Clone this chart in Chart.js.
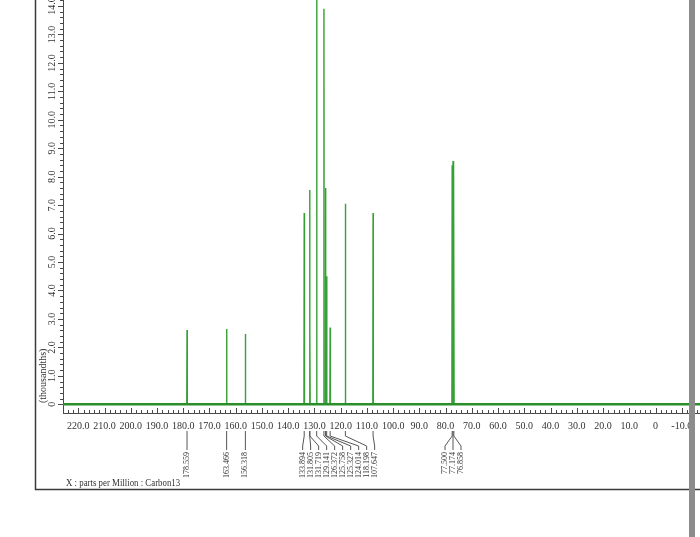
<!DOCTYPE html>
<html><head><meta charset="utf-8">
<script src="https://cdn.jsdelivr.net/npm/chart.js@4.4.0/dist/chart.umd.min.js"></script>
<style>html,body{margin:0;padding:0;background:#fff;overflow:hidden}canvas{display:block}</style>
</head><body>
<canvas id="c" width="700" height="537"></canvas>
<script>
// ---- data ----
const peakPpm    = [178.559, 163.466, 156.318, 133.894, 131.805, 131.719, 129.141, 126.372, 125.758, 125.327, 124.014, 118.198, 107.647, 77.500, 77.174, 76.858];
const peakHeight = [2.61, 2.65, 2.47, 6.72, 7.53, 2.6, 15.5, 13.9, 7.6, 4.5, 2.7, 7.05, 6.72, 8.4, 8.55, 8.35]; // thousandths
const peakLabels = ['178.559','163.466','156.318','133.894','131.805','131.719','129.141','126.372','125.758','125.327','124.014','118.198','107.647','77.500','77.174','76.858'];
const xTickValues = [220,210,200,190,180,170,160,150,140,130,120,110,100,90,80,70,60,50,40,30,20,10,0,-10];
const xTickLabels = ['220.0','210.0','200.0','190.0','180.0','170.0','160.0','150.0','140.0','130.0','120.0','110.0','100.0','90.0','80.0','70.0','60.0','50.0','40.0','30.0','20.0','10.0','0','-10.0'];
const yTickValues = [0,1,2,3,4,5,6,7,8,9,10,11,12,13,14];
const yTickLabels = ['0','1.0','2.0','3.0','4.0','5.0','6.0','7.0','8.0','9.0','10.0','11.0','12.0','13.0','14.0'];
const xRange = [225.83, -16.96];
const yRange = [-0.306, 14.21];
const xTitle = 'X : parts per Million : Carbon13';
const yTitle = '(thousandths)';

// ---- build line from peaks ----
const halfWidth = 0.1;
const spectrum = [{x: xRange[0], y: 0}];
peakPpm.forEach((p, i) => {
  spectrum.push({x: p + halfWidth, y: 0}, {x: p, y: peakHeight[i]}, {x: p - halfWidth, y: 0});
});
spectrum.push({x: xRange[1], y: 0});
const baseline = [{x: xRange[0], y: 0}, {x: xRange[1], y: 0}];

const SERIF = '"Liberation Serif", "DejaVu Serif", serif';
const AX = '#4a4a4a';
const TXT = '#333';

const decor = {
  id: 'decor',
  afterDraw(chart) {
    const ctx = chart.ctx, xs = chart.scales.x, ys = chart.scales.y, ca = chart.chartArea;
    ctx.save();
    ctx.strokeStyle = AX; ctx.lineWidth = 1;
    // x ticks (major / minor), pointing up
    for (let v = Math.ceil(xRange[1] / 2) * 2; v <= xRange[0]; v += 2) {
      const px = Math.round(xs.getPixelForValue(v)) + 0.5;
      const len = (v % 10 === 0) ? 5 : 3;
      ctx.beginPath(); ctx.moveTo(px, ca.bottom); ctx.lineTo(px, ca.bottom - len); ctx.stroke();
    }
    // y ticks, pointing left
    for (let k = 0; k <= 71; k++) {
      const v = k * 0.2;
      if (v > yRange[1]) break;
      const py = Math.round(ys.getPixelForValue(v)) + 0.5;
      const len = (k % 5 === 0) ? 5 : 3;
      ctx.beginPath(); ctx.moveTo(ca.left, py); ctx.lineTo(ca.left - len, py); ctx.stroke();
    }
    // y labels, rotated
    ctx.fillStyle = TXT;
    ctx.font = '10px ' + SERIF;
    ctx.textAlign = 'center'; ctx.textBaseline = 'middle';
    yTickValues.forEach((v, i) => {
      const py = ys.getPixelForValue(v);
      ctx.save(); ctx.translate(ca.left - 11, py); ctx.rotate(-Math.PI / 2);
      ctx.fillText(yTickLabels[i], 0, 0); ctx.restore();
    });
    ctx.save(); ctx.translate(ca.left - 20, ys.getPixelForValue(1.0)); ctx.rotate(-Math.PI / 2);
    ctx.fillText(yTitle, 0, 0); ctx.restore();

    // peak labels: greedy packing, then center each packed chain on its peaks
    const gap = 8;
    const px = peakPpm.map(p => xs.getPixelForValue(p));
    const lx = [];
    const groups = [];
    px.forEach((x, i) => {
      if (i > 0 && lx[i - 1] + gap > x) {
        lx[i] = lx[i - 1] + gap;
        groups[groups.length - 1].push(i);
      } else {
        lx[i] = x;
        groups.push([i]);
      }
    });
    groups.forEach(g => {
      const mid = (px[g[0]] + px[g[g.length - 1]]) / 2;
      const start = mid - (g.length - 1) * gap / 2;
      g.forEach((idx, k) => { lx[idx] = start + k * gap; });
    });
    const yA = ca.bottom + 18, yB = yA + 5, yC = yA + 15, yD = yA + 19;
    ctx.strokeStyle = '#555'; ctx.lineWidth = 1;
    px.forEach((x, i) => {
      ctx.beginPath();
      ctx.moveTo(x, yA); ctx.lineTo(x, yB); ctx.lineTo(lx[i], yC); ctx.lineTo(lx[i], yD);
      ctx.stroke();
    });
    ctx.font = '8px ' + SERIF; ctx.fillStyle = TXT;
    ctx.textAlign = 'right'; ctx.textBaseline = 'middle';
    lx.forEach((x, i) => {
      ctx.save(); ctx.translate(x, yD + 2); ctx.rotate(-Math.PI / 2);
      ctx.fillText(peakLabels[i], 0, 0); ctx.restore();
    });

    // footer title
    ctx.font = '10.5px ' + SERIF; ctx.textAlign = 'left'; ctx.textBaseline = 'middle';
    ctx.save(); ctx.translate(66, 483); ctx.scale(0.84, 1); ctx.fillText(xTitle, 0, 0); ctx.restore();

    // frame
    ctx.strokeStyle = '#3a3a3a'; ctx.lineWidth = 1.5;
    ctx.beginPath(); ctx.moveTo(35.5, 0); ctx.lineTo(35.5, 489.5); ctx.lineTo(700, 489.5); ctx.stroke();
    ctx.fillStyle = '#8c8c8c';
    ctx.fillRect(689, 0, 6, chart.height);
    ctx.restore();
  }
};

new Chart(document.getElementById('c'), {
  type: 'scatter',
  data: {
    datasets: [
      {data: baseline, showLine: true, borderColor: '#2a8f2a', borderWidth: 2.5, pointRadius: 0},
      {data: spectrum, showLine: true, borderColor: '#35a035', borderWidth: 1.4, pointRadius: 0}
    ]
  },
  options: {
    responsive: false, animation: false, devicePixelRatio: 1,
    layout: {padding: 0},
    plugins: {legend: {display: false}, tooltip: {enabled: false}},
    scales: {
      x: {
        type: 'linear', reverse: true, min: xRange[1], max: xRange[0],
        afterFit: s => { s.height = 124; },
        grid: {display: false, drawTicks: false},
        border: {display: true, color: AX, width: 1},
        ticks: {
          stepSize: 10, includeBounds: false, autoSkip: false, maxRotation: 0, padding: 7,
          color: TXT, font: {family: SERIF, size: 10},
          callback: v => { const i = xTickValues.indexOf(v); return i >= 0 ? xTickLabels[i] : ''; }
        }
      },
      y: {
        type: 'linear', min: yRange[0], max: yRange[1],
        afterFit: s => { s.width = 63; },
        grid: {display: false, drawTicks: false},
        border: {display: true, color: AX, width: 1},
        ticks: {display: false, stepSize: 1, includeBounds: false}
      }
    }
  },
  plugins: [decor]
});
</script>
</body></html>
